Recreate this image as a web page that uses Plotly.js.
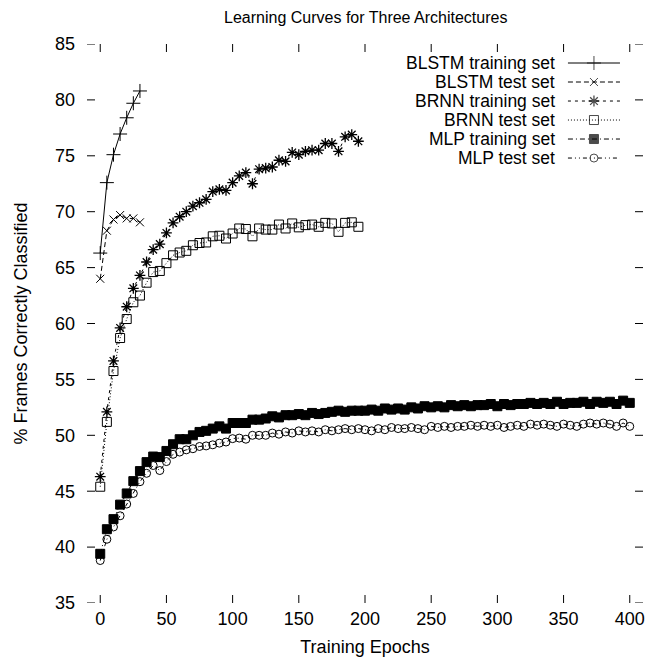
<!DOCTYPE html>
<html>
<head>
<meta charset="utf-8">
<script src="https://cdn.plot.ly/plotly-3.0.1.min.js"></script>
<style>html,body{margin:0;padding:0;background:#fff;}#chart{width:659px;height:660px;}</style>
</head>
<body>
<div id="chart"></div>
<script>
// ---- data ----
const seriesNames = ["BLSTM training set","BLSTM test set","BRNN training set","BRNN test set","MLP training set","MLP test set"];
const blstmEpochs = [0,5,10,15,20,25,30];
const blstmTrain = [66.3,72.6,75.1,76.95,78.4,79.7,80.8];
const blstmTest  = [64.0,68.3,69.3,69.7,69.4,69.4,69.05];
const brnnEpochs = [0,5,10,15,20,25,30,35,40,45,50,55,60,65,70,75,80,85,90,95,100,105,110,115,120,125,130,135,140,145,150,155,160,165,170,175,180,185,190,195];
const brnnTrain = [46.3,52.1,56.65,59.6,61.5,63.15,64.3,65.5,66.6,67.1,68.1,69.0,69.55,70.0,70.5,70.8,71.1,71.8,72.0,71.9,72.6,73.2,73.5,72.5,73.8,73.9,74.0,74.6,74.5,75.3,75.1,75.4,75.5,75.5,76.1,76.1,75.4,76.7,76.9,76.3];
const brnnTest = [45.4,51.2,55.75,58.7,60.4,61.9,62.5,63.65,64.6,64.7,65.4,66.1,66.35,66.5,67.0,67.2,67.25,67.8,67.85,67.6,68.05,68.5,68.45,67.8,68.5,68.4,68.4,68.85,68.5,68.95,68.6,68.8,68.85,68.65,69.0,68.95,68.2,69.0,69.05,68.65];
const mlpEpochs = [0,5,10,15,20,25,30,35,40,45,50,55,60,65,70,75,80,85,90,95,100,105,110,115,120,125,130,135,140,145,150,155,160,165,170,175,180,185,190,195,200,205,210,215,220,225,230,235,240,245,250,255,260,265,270,275,280,285,290,295,300,305,310,315,320,325,330,335,340,345,350,355,360,365,370,375,380,385,390,395,400];
const mlpTrain = [39.4,41.6,42.5,43.8,44.8,45.9,46.8,47.6,48.1,48.05,48.6,49.2,49.65,49.65,50.0,50.3,50.4,50.6,50.8,50.6,51.1,51.1,51.1,51.4,51.4,51.5,51.7,51.6,51.8,
  51.8,51.9,51.8,52.0,51.9,52.0,52.1,52.2,52.1,52.2,52.2,52.2,52.3,52.2,52.4,52.3,52.4,52.3,52.5,52.4,52.6,52.5,52.6,52.5,52.7,52.6,52.7,52.6,52.7,52.7,52.8,52.6,52.8,52.7,52.8,52.8,52.9,52.8,52.9,52.8,53.0,52.8,52.9,52.9,53.0,52.8,53.0,52.9,53.0,52.8,53.1,52.9];
const mlpTest = [38.8,40.7,41.8,42.8,43.85,44.8,45.85,46.6,47.3,46.85,47.65,48.3,48.5,48.7,48.8,49.0,49.05,49.15,49.3,49.4,49.7,49.75,49.65,50.0,50.0,50.0,50.2,50.1,50.3,
  50.2,50.4,50.3,50.4,50.3,50.5,50.4,50.5,50.6,50.5,50.6,50.5,50.4,50.6,50.5,50.7,50.6,50.6,50.7,50.6,50.5,50.8,50.7,50.8,50.7,50.8,50.8,50.9,50.8,50.9,50.8,50.9,50.7,50.8,50.9,50.8,51.0,50.9,51.0,50.9,50.8,51.0,50.9,50.8,51.0,51.1,51.0,51.1,51.0,50.8,51.1,50.8];
const xTicks = [0,50,100,150,200,250,300,350,400];
const yTicks = [35,40,45,50,55,60,65,70,75,80,85];

// ---- styles ----
const FONT = "Liberation Sans, Arial, Helvetica, sans-serif";
const X_RANGE = [-10, 410], Y_RANGE = [35, 85];
const styles = [
  {dash:"solid", symbol:"cross-thin", size:10, lw:1},
  {dash:"5px,3px", symbol:"x-thin", size:8, lw:1},
  {dash:"3px,4px", symbol:"asterisk", size:9, lw:1.3},
  {dash:"1px,2px", symbol:"square-open", size:9, lw:1},
  {dash:"5px,3px,1px,3px", symbol:"square", size:9, lw:1},
  {dash:"4px,3px,1px,3px,1px,3px", symbol:"circle-open", size:8, lw:1}
];
const seriesX = [blstmEpochs, blstmEpochs, brnnEpochs, brnnEpochs, mlpEpochs, mlpEpochs];
const seriesY = [blstmTrain, blstmTest, brnnTrain, brnnTest, mlpTrain, mlpTest];

const traces = [];
seriesY.forEach((ys, i) => {
  const s = styles[i];
  traces.push({
    x: seriesX[i], y: ys, type: "scatter", mode: "lines+markers",
    name: seriesNames[i], showlegend: false, cliponaxis: false,
    line: {color: "black", width: 1, dash: s.dash},
    marker: {symbol: s.symbol, size: s.size, color: "black", line: {color: "black", width: s.lw}}
  });
});

// custom legend (text right, sample to its right); positions given as fractions of the plot area
const legX0 = 0.865, legX1 = 0.9586, legTop = 0.966, legStep = 0.034, legTextX = 0.845;
const fx = f => X_RANGE[0] + f * (X_RANGE[1] - X_RANGE[0]);
const fy = f => Y_RANGE[0] + f * (Y_RANGE[1] - Y_RANGE[0]);
const annotations = [];
seriesNames.forEach((nm, i) => {
  const s = styles[i];
  const yy = legTop - i * legStep;
  traces.push({
    x: [fx(legX0), fx((legX0 + legX1) / 2), fx(legX1)], y: [fy(yy), fy(yy), fy(yy)],
    type: "scatter", mode: "lines+markers", cliponaxis: false,
    showlegend: false, hoverinfo: "skip",
    line: {color: "black", width: 1, dash: s.dash},
    marker: {symbol: s.symbol, size: [0, s.size, 0], color: "black", line: {color: "black", width: s.lw}}
  });
  annotations.push({
    xref: "paper", yref: "paper", x: legTextX, y: yy, xanchor: "right", yanchor: "middle",
    text: nm, showarrow: false, font: {family: FONT, size: 17.5, color: "black"}
  });
});

// gnuplot-style inward tick marks on all four sides (no border line)
const TL_X = 8 / 556, TL_Y = 8 / 559;
const shapes = [];
xTicks.forEach(v => {
  shapes.push({type: "line", xref: "x", yref: "paper", x0: v, x1: v, y0: 0, y1: TL_Y, line: {color: "black", width: 1}});
  shapes.push({type: "line", xref: "x", yref: "paper", x0: v, x1: v, y0: 1, y1: 1 - TL_Y, line: {color: "black", width: 1}});
});
yTicks.forEach(v => {
  shapes.push({type: "line", xref: "paper", yref: "y", x0: 0, x1: TL_X, y0: v, y1: v, line: {color: "black", width: 1}});
  shapes.push({type: "line", xref: "paper", yref: "y", x0: 1, x1: 1 - TL_X, y0: v, y1: v, line: {color: "black", width: 1}});
});

const axisCommon = {
  showgrid: false, zeroline: false, showline: false, ticks: "",
  tickfont: {family: FONT, size: 18, color: "black"}
};

const layout = {
  width: 659, height: 660,
  margin: {l: 87, r: 16, t: 44, b: 57},
  paper_bgcolor: "white", plot_bgcolor: "white",
  font: {family: FONT, color: "black"},
  title: {text: "Learning Curves for Three Architectures", font: {family: FONT, size: 16, color: "black"}, x: 0.555, xanchor: "center", y: 0.974, yanchor: "middle"},
  xaxis: Object.assign({}, axisCommon, {
    range: X_RANGE, tickvals: xTicks, ticktext: xTicks.map(String), ticklabelstandoff: 3,
    title: {text: "Training Epochs", font: {family: FONT, size: 18, color: "black"}, standoff: 12}
  }),
  yaxis: Object.assign({}, axisCommon, {
    range: Y_RANGE, tickvals: yTicks, ticktext: yTicks.map(String), ticklabelstandoff: 11,
    title: {text: "% Frames Correctly Classified", font: {family: FONT, size: 18, color: "black"}, standoff: 22}
  }),
  shapes: shapes,
  annotations: annotations,
  showlegend: false
};

Plotly.newPlot("chart", traces, layout, {displayModeBar: false, staticPlot: true});
</script>
</body>
</html>
